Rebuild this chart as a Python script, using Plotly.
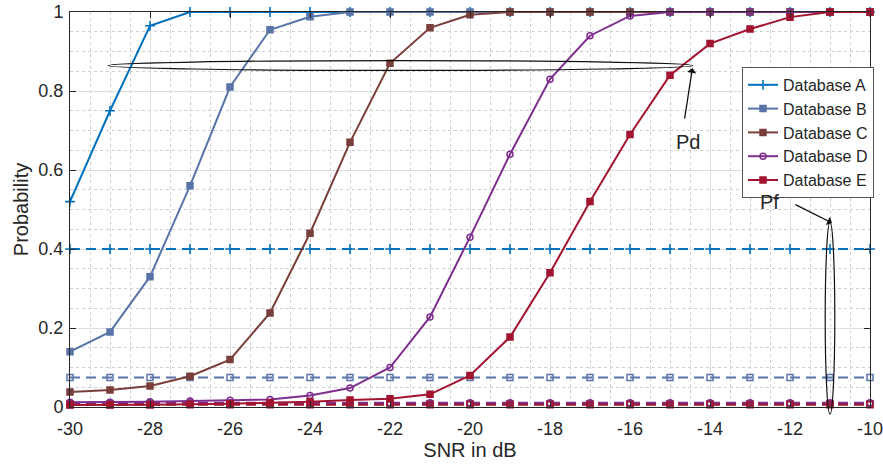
import plotly.graph_objects as go

# SNR sweep (dB)
snr = list(range(-30, -9))

# Detection probability Pd per database
pd_a = [0.52, 0.75, 0.965, 1.0, 1.0, 1.0, 1.0, 1.0, 1.0, 1.0, 1.0,
        1.0, 1.0, 1.0, 1.0, 1.0, 1.0, 1.0, 1.0, 1.0, 1.0]
pd_b = [0.14, 0.19, 0.33, 0.56, 0.81, 0.955, 0.988, 1.0, 1.0, 1.0, 1.0,
        1.0, 1.0, 1.0, 1.0, 1.0, 1.0, 1.0, 1.0, 1.0, 1.0]
pd_c = [0.038, 0.043, 0.053, 0.078, 0.12, 0.238, 0.44, 0.67, 0.87, 0.96, 0.993,
        1.0, 1.0, 1.0, 1.0, 1.0, 1.0, 1.0, 1.0, 1.0, 1.0]
pd_d = [0.012, 0.012, 0.013, 0.015, 0.017, 0.019, 0.029, 0.048, 0.1, 0.228, 0.43,
        0.64, 0.83, 0.94, 0.99, 1.0, 1.0, 1.0, 1.0, 1.0, 1.0]
pd_e = [0.005, 0.005, 0.006, 0.007, 0.008, 0.011, 0.013, 0.018, 0.021, 0.032, 0.08,
        0.177, 0.34, 0.52, 0.69, 0.84, 0.92, 0.957, 0.987, 1.0, 1.0]

# False alarm probability Pf per database (constant over SNR)
pf_a = [0.4] * len(snr)
pf_b = [0.075] * len(snr)
pf_c = [0.008] * len(snr)
pf_d = [0.011] * len(snr)
pf_e = [0.006] * len(snr)

# Axis tick positions and labels (plain hyphen minus)
x_ticks = [-30, -28, -26, -24, -22, -20, -18, -16, -14, -12, -10]
x_ticklabels = ["-30", "-28", "-26", "-24", "-22", "-20", "-18", "-16", "-14", "-12", "-10"]
y_ticks = [0, 0.2, 0.4, 0.6, 0.8, 1]
y_ticklabels = ["0", "0.2", "0.4", "0.6", "0.8", "1"]

names = ["Database A", "Database B", "Database C", "Database D", "Database E"]
colors = ["#0072BD", "#5874A8", "#7A3F3A", "#7E2F8E", "#A2142F"]
pd_sets = [pd_a, pd_b, pd_c, pd_d, pd_e]
pf_sets = [pf_a, pf_b, pf_c, pf_d, pf_e]
pd_symbols = ["cross-thin-open", "square", "square", "circle-open", "square"]
pf_symbols = ["cross-thin-open", "square-open", "square-open", "circle-open", "square-open"]

x_range = [-30, -10]
y_range = [0, 1]
FONT = "Liberation Sans, Arial"

fig = go.Figure()

for name, col, pdv, pfv, s1, s2 in zip(names, colors, pd_sets, pf_sets,
                                       pd_symbols, pf_symbols):
    cross = "cross" in s1
    fig.add_trace(go.Scatter(
        x=snr, y=pdv, name=name, mode="lines+markers",
        line=dict(color=col, width=2),
        marker=dict(symbol=s1, size=7 if cross else 6, color=col,
                    line=dict(color=col, width=1.6 if cross else 1.5)),
        cliponaxis=False,
    ))
    fig.add_trace(go.Scatter(
        x=snr, y=pfv, name=name + " Pf", mode="lines+markers", showlegend=False,
        line=dict(color=col, width=2, dash="10px,6px"),
        marker=dict(symbol=s2, size=7 if cross else 6, color=col,
                    line=dict(color=col, width=1.6 if cross else 1.5)),
        cliponaxis=False,
    ))


def px(v):
    return (v - x_range[0]) / (x_range[1] - x_range[0])


def py(v):
    return (v - y_range[0]) / (y_range[1] - y_range[0])


# Ellipse grouping the Pd curves
fig.add_shape(type="circle", xref="paper", yref="paper",
              x0=px(-29.05), x1=px(-14.43), y0=py(0.852), y1=py(0.877),
              line=dict(color="#111111", width=1.2))
# Ellipse grouping the Pf lines
fig.add_shape(type="circle", xref="paper", yref="paper",
              x0=px(-11.12), x1=px(-10.88), y0=py(-0.018), y1=py(0.468),
              line=dict(color="#111111", width=1.2))

# Labels with arrows
fig.add_annotation(x=px(-14.2), y=py(0.705), xref="paper", yref="paper",
                   text="Pd", showarrow=False,
                   font=dict(size=20, color="#262626", family=FONT))
fig.add_annotation(x=px(-14.44), y=py(0.858), xref="paper", yref="paper",
                   ax=-8, ay=52, axref="pixel", ayref="pixel", text="",
                   showarrow=True, arrowhead=1, arrowsize=1.2, arrowwidth=1.3,
                   arrowcolor="#111111")
fig.add_annotation(x=px(-12.22), y=py(0.52), xref="paper", yref="paper",
                   text="Pf", showarrow=False,
                   font=dict(size=20, color="#262626", family=FONT))
fig.add_annotation(x=px(-10.95), y=py(0.466), xref="paper", yref="paper",
                   ax=-38, ay=-19, axref="pixel", ayref="pixel", text="",
                   showarrow=True, arrowhead=1, arrowsize=1.2, arrowwidth=1.3,
                   arrowcolor="#111111")

axis_common = dict(
    showline=True, linecolor="#262626", linewidth=1, mirror="ticks",
    ticks="inside", ticklen=6, tickcolor="#262626",
    showgrid=True, gridcolor="#dedede", gridwidth=1,
    zeroline=False, automargin=False, ticklabeloverflow="allow",
    tickfont=dict(size=18, color="#262626", family=FONT),
)

fig.update_xaxes(
    range=x_range, tickmode="array", tickvals=x_ticks, ticktext=x_ticklabels,
    ticklabelstandoff=5,
    title=dict(text="SNR in dB", standoff=4,
               font=dict(size=20, color="#262626", family=FONT)),
    minor=dict(dtick=0.5, tick0=-30, showgrid=True, griddash="dot",
               gridcolor="#cfcfcf", gridwidth=1, ticks=""),
    **axis_common,
)
fig.update_yaxes(
    range=y_range, tickmode="array", tickvals=y_ticks, ticktext=y_ticklabels,
    ticklabelstandoff=2,
    title=dict(text="Probability", standoff=4,
               font=dict(size=20, color="#262626", family=FONT)),
    minor=dict(dtick=0.05, tick0=0, showgrid=True, griddash="dot",
               gridcolor="#cfcfcf", gridwidth=1, ticks=""),
    **axis_common,
)

fig.update_layout(
    width=883, height=466,
    margin=dict(l=70, r=13, t=12, b=59, autoexpand=False),
    paper_bgcolor="white", plot_bgcolor="white",
    font=dict(family=FONT, color="#262626"),
    legend=dict(x=0.84, y=0.861, xanchor="left", yanchor="top",
                bgcolor="white", bordercolor="#555555", borderwidth=1,
                font=dict(size=16, color="#262626"),
                itemwidth=30, tracegroupgap=0),
    showlegend=True,
)

fig.write_html("out.html")
